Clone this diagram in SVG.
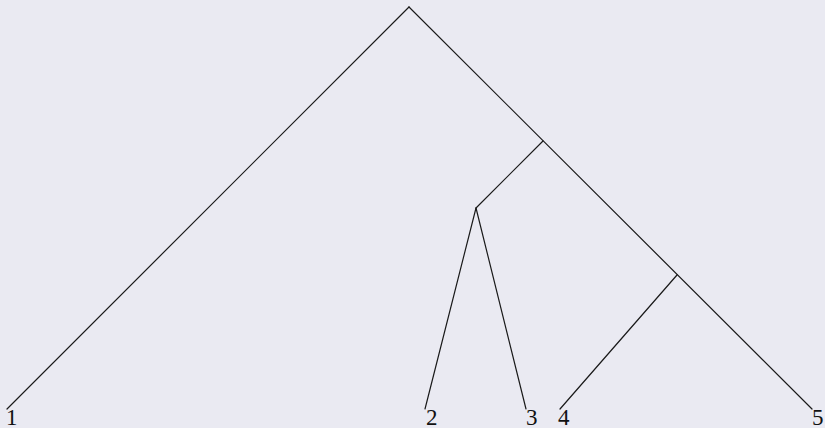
<svg xmlns="http://www.w3.org/2000/svg" width="825" height="428" viewBox="0 0 825 428">
<style>
.e{stroke:#1a1a1a;stroke-width:1.2;fill:none;stroke-linecap:round}
.l{font-family:"Liberation Serif","DejaVu Serif",serif;font-size:23px;fill:#111}
</style>
<rect width="825" height="428" fill="#eaeaf2"/>
<g id="connectors">
<path class="e" d="M409 7L7 409"/>
<path class="e" d="M409 7L812 409"/>
<path class="e" d="M543 141L476 208"/>
<path class="e" d="M476 208L425 409"/>
<path class="e" d="M476 208L526 409"/>
<path class="e" d="M677 275L560 409"/>
</g>
<g id="leaf1"><text class="l" x="6" y="425">1</text></g>
<g id="leaf2"><text class="l" x="426" y="425">2</text></g>
<g id="leaf3"><text class="l" x="526" y="425">3</text></g>
<g id="leaf4"><text class="l" x="558" y="425">4</text></g>
<g id="leaf5"><text class="l" x="812" y="425">5</text></g>
</svg>
